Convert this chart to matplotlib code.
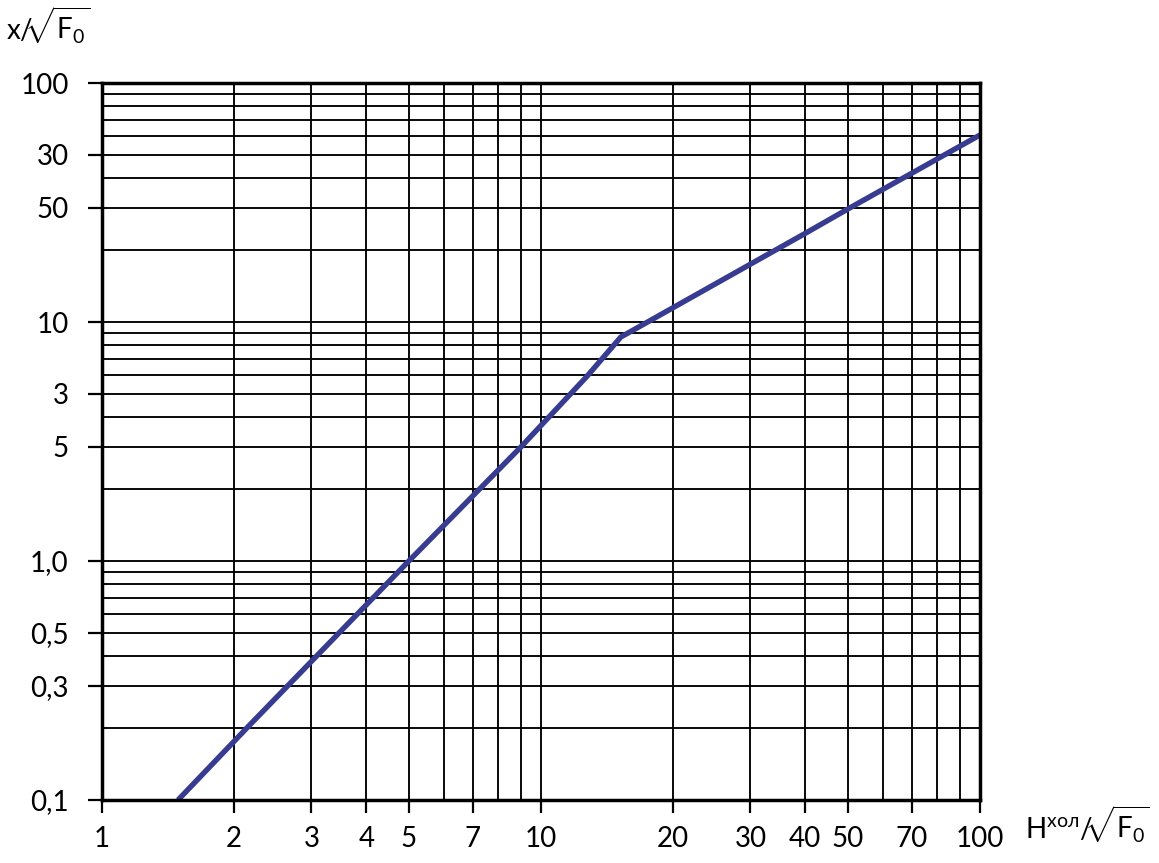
import matplotlib
matplotlib.use('Agg')
import matplotlib.pyplot as plt
from matplotlib.ticker import FixedLocator, FixedFormatter, LogLocator, NullFormatter

plt.rcParams['font.family'] = ['Lato', 'DejaVu Sans']
plt.rcParams['mathtext.fontset'] = 'custom'
plt.rcParams['mathtext.rm'] = 'Lato'
plt.rcParams['mathtext.it'] = 'Lato'

# curve (H/sqrt(F0), x/sqrt(F0))
h_vals = [1.49, 2.17, 5.0, 9.0, 12.7, 15.2, 40.0, 50.0, 100.0]
x_vals = [0.1, 0.206, 1.0, 3.0, 5.9, 8.65, 23.5, 29.7, 60.6]

xtick_pos = [1, 2, 3, 4, 5, 7, 10, 20, 30, 40, 50, 70, 100]
xtick_lab = ['1', '2', '3', '4', '5', '7', '10', '20', '30', '40', '50', '70', '100']
ytick_pos = [0.1, 0.3, 0.5, 1, 3, 5, 10, 30, 50, 100]
ytick_lab = ['0,1', '0,3', '0,5', '1,0', '5', '3', '10', '50', '30', '100']

fig = plt.figure(figsize=(11.59, 8.63), dpi=100)
ax = fig.add_axes([102 / 1159, 1 - 800 / 863, 878 / 1159, 717 / 863])

ax.set_xscale('log')
ax.set_yscale('log')
ax.set_xlim(1, 100)
ax.set_ylim(0.1, 100)

ax.plot(h_vals, x_vals, color='#383c91', linewidth=3.9, solid_capstyle='butt', zorder=3)

ax.xaxis.set_major_locator(FixedLocator(xtick_pos))
ax.xaxis.set_major_formatter(FixedFormatter(xtick_lab))
ax.yaxis.set_major_locator(FixedLocator(ytick_pos))
ax.yaxis.set_major_formatter(FixedFormatter(ytick_lab))
for axis in (ax.xaxis, ax.yaxis):
    axis.set_minor_locator(LogLocator(base=10, subs=range(1, 10), numticks=20))
    axis.set_minor_formatter(NullFormatter())

ax.grid(which='both', color='black', linewidth=1.35)
ax.tick_params(which='minor', length=0)
ax.tick_params(axis='x', which='major', direction='out', length=9.5, width=1.6,
               pad=9, labelsize=20)
ax.tick_params(axis='y', which='major', direction='out', length=10, width=1.6,
               pad=14, labelsize=20)

for s in ax.spines.values():
    s.set_linewidth(2.5)
    s.set_zorder(4)

fig.text(6 / 1159, 1 - 40 / 863, r'$\mathregular{x/\!\!\sqrt{F_0}}$', fontsize=20,
         ha='left', va='baseline')
fig.text(1025 / 1159, 1 - 838 / 863, r'$\mathregular{H^{хол}/\!\!\sqrt{F_0}}$',
         fontsize=20, ha='left', va='baseline')

fig.savefig('out.png', dpi=100)
